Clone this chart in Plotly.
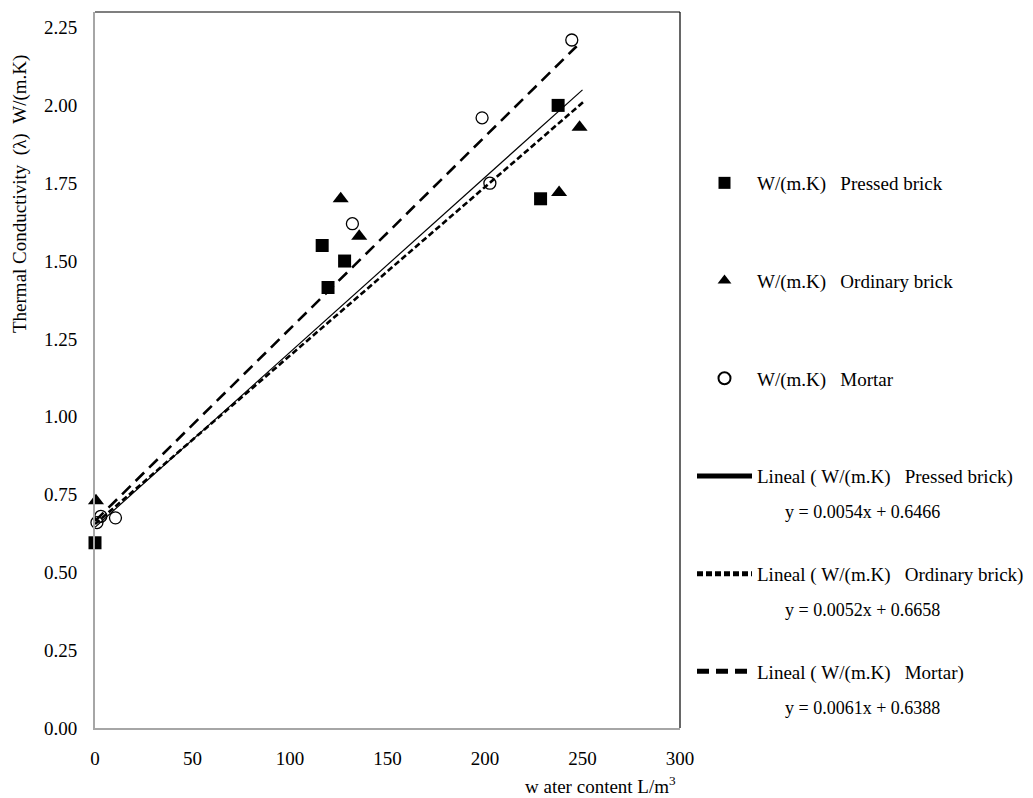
import plotly.graph_objects as go

# ---- data ----
pressed_x = [0, 116.5, 119.5, 128, 228.5, 237.5]
pressed_y = [0.595, 1.55, 1.415, 1.50, 1.70, 2.00]

ordinary_x = [0.5, 126, 135.5, 238, 248.5]
ordinary_y = [0.73, 1.70, 1.58, 1.72, 1.93]

mortar_x = [1, 3, 10.5, 132, 198.5, 202.5, 244.5]
mortar_y = [0.66, 0.68, 0.675, 1.62, 1.96, 1.75, 2.21]

# trend lines: start / end points as drawn
trend_pressed_x = [0, 250]
trend_pressed_y = [0.645, 2.05]
trend_ordinary_x = [0, 251]
trend_ordinary_y = [0.655, 2.014]
trend_mortar_x = [0, 247]
trend_mortar_y = [0.665, 2.19]

eq_texts = ["y = 0.0054x + 0.6466", "y = 0.0052x + 0.6658", "y = 0.0061x + 0.6388"]

y_ticks = [0, 0.25, 0.5, 0.75, 1.0, 1.25, 1.5, 1.75, 2.0, 2.25]
x_ticks = [0, 50, 100, 150, 200, 250, 300]

NB = "\u00a0"
FONT = "Liberation Serif"

fig = go.Figure()

fig.add_trace(go.Scatter(
    x=pressed_x, y=pressed_y, mode="markers", cliponaxis=False,
    name=f"W/(m.K){NB*3}Pressed brick", legendgroup="a",
    marker=dict(symbol="square", size=13, color="black")))
fig.add_trace(go.Scatter(
    x=ordinary_x, y=ordinary_y, mode="markers", cliponaxis=False,
    name=f"W/(m.K){NB*3}Ordinary brick", legendgroup="b",
    marker=dict(symbol="triangle-up", size=14, color="black")))
fig.add_trace(go.Scatter(
    x=mortar_x, y=mortar_y, mode="markers", cliponaxis=False,
    name=f"W/(m.K){NB*3}Mortar", legendgroup="c",
    marker=dict(symbol="circle-open", size=12, color="black", line=dict(width=1.3, color="black"))))

fig.add_trace(go.Scatter(
    x=trend_pressed_x, y=trend_pressed_y, mode="lines",
    name=f"Lineal{NB}({NB}W/(m.K){NB*3}Pressed brick)", legendgroup="d",
    line=dict(color="black", width=1.2)))
fig.add_trace(go.Scatter(
    x=trend_ordinary_x, y=trend_ordinary_y, mode="lines",
    name=f"Lineal{NB}({NB}W/(m.K){NB*3}Ordinary brick)", legendgroup="e",
    line=dict(color="black", width=2.6, dash="6px,3px")))
fig.add_trace(go.Scatter(
    x=trend_mortar_x, y=trend_mortar_y, mode="lines",
    name=f"Lineal{NB}({NB}W/(m.K){NB*3}Mortar)", legendgroup="f",
    line=dict(color="black", width=2.6, dash="12px,7px")))

W, H = 1033, 798
L, R, T, B = 95, 680, 12, 728
pw, ph = R - L, B - T

def px_x(p):
    return (p - L) / pw

def px_y(p):
    return (B - p) / ph

annotations = []
for i, t in enumerate(eq_texts):
    annotations.append(dict(
        text=t, xref="paper", yref="paper", x=px_x(862), y=px_y(512 + 98 * i),
        xanchor="center", yanchor="middle", showarrow=False,
        font=dict(family=FONT, size=18, color="black")))

annotations.append(dict(
    text=f"Thermal{NB}Conductivity{NB*2}(λ){NB*2}W/(m.K)", xref="paper", yref="paper",
    x=px_x(20), y=px_y(194), textangle=-90, xanchor="center", yanchor="middle",
    showarrow=False, font=dict(family=FONT, size=19, color="black")))
annotations.append(dict(
    text="w ater content L/m<sup>3</sup>", xref="paper", yref="paper",
    x=px_x(600), y=px_y(785), xanchor="center", yanchor="middle",
    showarrow=False, font=dict(family=FONT, size=19, color="black")))

fig.update_layout(
    width=W, height=H,
    margin=dict(l=L, r=W - R, t=T, b=H - B, autoexpand=False),
    paper_bgcolor="white", plot_bgcolor="white",
    font=dict(family=FONT, size=19, color="black"),
    showlegend=True,
    legend=dict(
        x=px_x(692), y=px_y(164), xanchor="left", yanchor="top",
        bgcolor="rgba(0,0,0,0)", borderwidth=0,
        font=dict(family=FONT, size=19, color="black"),
        tracegroupgap=70, itemwidth=55, itemsizing="constant",
    ),
    xaxis=dict(range=[0, 300], tickvals=x_ticks, showgrid=False, zeroline=False,
               showline=True, linecolor="#a6a6a6", linewidth=2, ticks="",
               ticklabelstandoff=12, tickfont=dict(family=FONT, size=19)),
    yaxis=dict(range=[0, 2.30], tickvals=y_ticks, tickformat=".2f", showgrid=False,
               zeroline=False, showline=True, linecolor="#a6a6a6", linewidth=2, ticks="",
               ticklabelstandoff=12, tickfont=dict(family=FONT, size=19)),
    annotations=annotations,
    shapes=[
        dict(type="line", xref="paper", yref="paper", x0=0, x1=1, y0=1, y1=1,
             line=dict(color="black", width=1.2)),
        dict(type="line", xref="paper", yref="paper", x0=1, x1=1, y0=0, y1=1,
             line=dict(color="black", width=1.2)),
    ],
)

fig.write_html("out.html")
